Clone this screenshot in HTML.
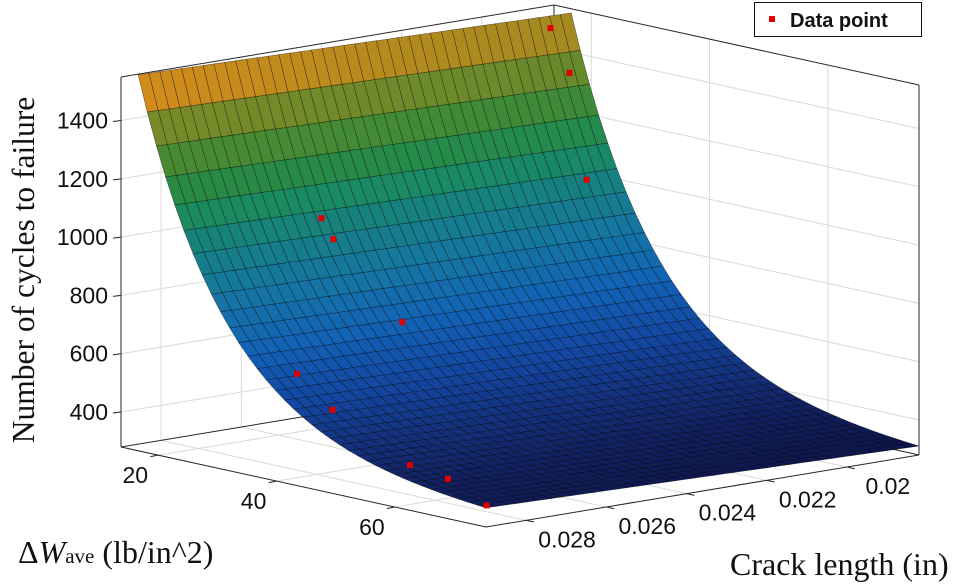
<!DOCTYPE html>
<html><head><meta charset="utf-8">
<style>
html,body{margin:0;padding:0;background:#fff;}
svg{display:block;}
.tick{font-family:"Liberation Sans",sans-serif;font-size:23px;fill:#111;}
.title{font-family:"Liberation Serif",serif;font-size:32px;fill:#111;}
</style></head>
<body>
<svg id="chart" width="955" height="584" viewBox="0 0 955 584" xmlns="http://www.w3.org/2000/svg">
<g id="walls"></g>
<g id="surface"></g>
<g id="points"></g>
<g id="axes"></g>
<text class="title" transform="translate(34,270) rotate(-90)" text-anchor="middle" style="font-size:31.5px">Number of cycles to failure</text>
<text class="title" x="18" y="563">Δ<tspan font-style="italic">W</tspan><tspan font-size="21px">ave</tspan> (lb/in^2)</text>
<text class="title" x="730" y="575">Crack length (in)</text>
<g>
<rect x="754.5" y="2.5" width="167" height="34" fill="#fff" stroke="#111" stroke-width="1"/>
<rect x="769" y="16" width="6" height="6" fill="#e00000"/>
<text x="790" y="27" font-family="Liberation Sans, sans-serif" font-weight="bold" font-size="20px" fill="#111">Data point</text>
</g>
</svg>
<script>
// ---- data ----
const zTicks = [400, 600, 800, 1000, 1200, 1400];
const wTicks = [20, 40, 60];
const cTicks = [0.028, 0.026, 0.024, 0.022, 0.02];
const cTickLabels = ["0.028", "0.026", "0.024", "0.022", "0.02"];
const pointW = [19.2, 19.7, 22.6, 25.9, 27.9, 32.1, 36.0, 42.0, 55.1, 61.5, 72.1];
const pointC = [0.0191, 0.0187, 0.0187, 0.0258, 0.0258, 0.0247, 0.0279, 0.0279, 0.0279, 0.0279, 0.0285];
const pointN = [1515, 1355, 1001, 1046, 983, 692, 605, 508, 377, 358, 328];
// fitted surface coefficients: N = A*exp(-k*(W-W0)) + B0 + B1*t(c)
const fitCoef = [1250, 0.066, 16.6, 320, -35];
const surfW = [16.6, 75.4];
const surfC = [0.0182, 0.029];
const colorZ = [280, 400, 550, 700, 850, 1000, 1100, 1200, 1300, 1400, 1480, 1530];
const colorC = ["#0a0f42","#13286e","#1346a0","#1262b6","#1575a4","#168082","#1a8a62","#2a8a42","#4c8a30","#7a8a28","#a88a20","#ee8c18"];

// ---- axis functions ----
const Wmin = 13.7, Wmax = 75.4, cF = 0.029, cB = 0.0182, zMin = 280, zPx = 0.2915;
function proj(W, c, N) {
  const s = (W - Wmin) / (Wmax - Wmin);
  const t = (cF - c) / (cF - cB);
  return [121 + 365 * s + 433 * t, 447 + 80 * s - 72 * t - (N - zMin) * zPx];
}
const zMax = zMin + 370 / zPx;
function fitN(W, c) {
  const t = (cF - c) / (cF - cB);
  return fitCoef[0] * Math.exp(-fitCoef[1] * (W - fitCoef[2])) + fitCoef[3] + fitCoef[4] * t;
}
function hex(h){return [1,3,5].map(i=>parseInt(h.substr(i,2),16));}
function colorFor(z) {
  if (z <= colorZ[0]) return colorC[0];
  for (let i = 1; i < colorZ.length; i++) {
    if (z <= colorZ[i]) {
      const f = (z - colorZ[i-1]) / (colorZ[i] - colorZ[i-1]);
      const a = hex(colorC[i-1]), b = hex(colorC[i]);
      return "rgb(" + a.map((v,k)=>Math.round(v + (b[k]-v)*f)).join(",") + ")";
    }
  }
  return colorC[colorC.length-1];
}
const NS = "http://www.w3.org/2000/svg";
function line(g, p, q, stroke, w) {
  const l = document.createElementNS(NS, "line");
  l.setAttribute("x1", p[0]); l.setAttribute("y1", p[1]);
  l.setAttribute("x2", q[0]); l.setAttribute("y2", q[1]);
  l.setAttribute("stroke", stroke); l.setAttribute("stroke-width", w);
  g.appendChild(l); return l;
}
function text(g, x, y, str, anchor) {
  const t = document.createElementNS(NS, "text");
  t.setAttribute("x", x); t.setAttribute("y", y);
  t.setAttribute("class", "tick"); t.setAttribute("text-anchor", anchor);
  t.textContent = str; g.appendChild(t); return t;
}

// ---- walls & grid ----
const walls = document.getElementById("walls");
const gc = "#d9d9d9";
zTicks.forEach(z => {
  const gl1 = line(walls, proj(Wmin, cF, z), proj(Wmin, cB, z), gc, 1);
  
  
  const gl2 = line(walls, proj(Wmin, cB, z), proj(Wmax, cB, z), gc, 1);
  
  
});
wTicks.forEach(w => {
  const g1 = line(walls, proj(w, cF, zMin), proj(w, cB, zMin), gc, 1);
  
  
  const g2 = line(walls, proj(w, cB, zMin), proj(w, cB, zMax), gc, 1);
  
  
});
cTicks.forEach(c => {
  const g1 = line(walls, proj(Wmin, c, zMin), proj(Wmax, c, zMin), gc, 1);
  
  
  const g2 = line(walls, proj(Wmin, c, zMin), proj(Wmin, c, zMax), gc, 1);
  
  
});
const bc = "#262626";
[[proj(Wmin,cF,zMin),proj(Wmin,cB,zMin)],[proj(Wmin,cB,zMin),proj(Wmax,cB,zMin)],
 [proj(Wmin,cB,zMin),proj(Wmin,cB,zMax)],
 [proj(Wmin,cF,zMax),proj(Wmin,cB,zMax)],[proj(Wmin,cB,zMax),proj(Wmax,cB,zMax)],
 [proj(Wmax,cB,zMin),proj(Wmax,cB,zMax)]].forEach(e => {
  const l = line(walls, e[0], e[1], bc, 1);
  
  
});

// ---- surface ----
const surf = document.getElementById("surface");
const nRows = 38, nCols = 40;
for (let i = 0; i < nRows; i++) {
  const w0 = surfW[0] + (surfW[1]-surfW[0]) * i / nRows;
  const w1 = surfW[0] + (surfW[1]-surfW[0]) * (i+1) / nRows;
  for (let j = 0; j < nCols; j++) {
    const c0 = surfC[0] + (surfC[1]-surfC[0]) * j / nCols;
    const c1 = surfC[0] + (surfC[1]-surfC[0]) * (j+1) / nCols;
    const n00 = fitN(w0,c0), n01 = fitN(w0,c1), n11 = fitN(w1,c1), n10 = fitN(w1,c0);
    const pts = [proj(w0,c0,n00), proj(w0,c1,n01), proj(w1,c1,n11), proj(w1,c0,n10)];
    const p = document.createElementNS(NS, "polygon");
    p.setAttribute("points", pts.map(q => q[0].toFixed(1)+","+q[1].toFixed(1)).join(" "));
    p.setAttribute("fill", colorFor((n00+n01+n11+n10)/4));
    p.setAttribute("stroke", "rgba(0,0,0,0.5)");
    p.setAttribute("stroke-width", "0.6");
    
    
    surf.appendChild(p);
  }
}

// ---- data points ----
const pg = document.getElementById("points");
for (let i = 0; i < pointW.length; i++) {
  const q = proj(pointW[i], pointC[i], pointN[i]);
  const r = document.createElementNS(NS, "rect");
  r.setAttribute("x", (q[0]-3).toFixed(1)); r.setAttribute("y", (q[1]-3).toFixed(1));
  r.setAttribute("width", 6); r.setAttribute("height", 6);
  r.setAttribute("fill", "#e00000");
  
  
  pg.appendChild(r);
}

// ---- axes ----
const ax = document.getElementById("axes");
const zl = line(ax, proj(Wmin,cF,zMin), proj(Wmin,cF,zMax), bc, 1);


const wl = line(ax, proj(Wmin,cF,zMin), proj(Wmax,cF,zMin), bc, 1);


const cl = line(ax, proj(Wmax,cF,zMin), proj(Wmax,cB,zMin), bc, 1);


zTicks.forEach(z => {
  const p = proj(Wmin, cF, z);
  const tk = line(ax, p, [p[0]-8, p[1]+1], bc, 1);
  
  
  const lb = text(ax, p[0]-13, p[1]+8, String(z), "end");
  
  
});
wTicks.forEach(w => {
  const p = proj(w, cF, zMin);
  const tk = line(ax, p, [p[0]-8, p[1]+1.5], bc, 1);
  
  
  const lb = text(ax, p[0]-23, p[1]+28, String(w), "middle");
  
  
});
cTicks.forEach((c, i) => {
  const p = proj(Wmax, c, zMin);
  const tk = line(ax, p, [p[0]+8, p[1]+1.7], bc, 1);
  
  
  const lb = text(ax, p[0]+41, p[1]+27, cTickLabels[i], "middle");
  
  
});
</script>
</body></html>
